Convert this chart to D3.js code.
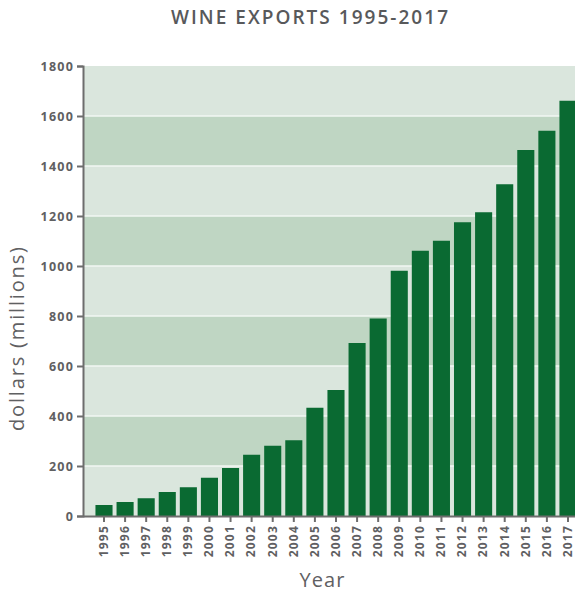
<!DOCTYPE html>
<html><head><meta charset="utf-8">
<script src="https://cdn.jsdelivr.net/npm/d3@7"></script>
<style>body{margin:0;background:#fff;} svg{display:block;font-family:"Open Sans",Lato,sans-serif;}</style>
</head><body>
<svg id="c" width="575" height="594"></svg>
<script>
const years = ["1995","1996","1997","1998","1999","2000","2001","2002","2003","2004","2005","2006","2007","2008","2009","2010","2011","2012","2013","2014","2015","2016","2017"];
const exportsValues = [44,56,71,96,115,153,192,245,281,303,433,504,692,790,981,1061,1101,1175,1215,1327,1464,1541,1661];
const yTicks = [0,200,400,600,800,1000,1200,1400,1600,1800];
const title = "WINE EXPORTS 1995-2017";
const yLabel = "dollars (millions)";
const xLabel = "Year";

(function(){
const svg = d3.select("#c");
const mLeft = 83, mRight = 575, mTop = 66, mBottom = 516;
const y = d3.scaleLinear().domain([0,1800]).range([mBottom, mTop]);
const step = 21.09;
const x0 = 104 - step/2;
const x = d3.scaleBand().domain(years).range([x0, x0 + step*years.length]).paddingInner(0.19).paddingOuter(0.095);

const bands = d3.pairs(yTicks);
svg.append("g").selectAll("rect").data(bands).join("rect")
  .attr("x", mLeft).attr("width", mRight-mLeft)
  .attr("y", d => y(d[1])).attr("height", d => y(d[0]) - y(d[1]))
  .attr("fill", (d,i) => i % 2 === 0 ? "#dae6dd" : "#bfd6c3");
svg.append("g").selectAll("line").data(yTicks.slice(1,-1)).join("line")
  .attr("x1", mLeft).attr("x2", mRight).attr("y1", d => y(d)).attr("y2", d => y(d))
  .attr("stroke", "#f2f7f3").attr("stroke-width", 1.5);

svg.append("g").selectAll("rect").data(exportsValues).join("rect")
  .attr("x", (d,i) => x(years[i])).attr("width", x.bandwidth())
  .attr("y", d => y(d)).attr("height", d => mBottom - y(d))
  .attr("fill", "#0a6a32");

const ya = svg.append("g").attr("transform", `translate(${mLeft},0)`)
  .call(d3.axisLeft(y).tickValues(yTicks).tickFormat(d3.format("d")).tickSize(6).tickPadding(3));
ya.select(".domain").attr("stroke", "#6d6d6d").attr("stroke-width", 2);
ya.selectAll(".tick line").attr("stroke", "#6d6d6d").attr("stroke-width", 2);
ya.selectAll(".tick text").attr("fill", "#5f6062").attr("font-size", 12.5).attr("font-weight", "bold")
  .attr("font-family", "'Open Sans', sans-serif").style("letter-spacing", "1.2px");

const xa = svg.append("g").attr("transform", `translate(0,${mBottom})`)
  .call(d3.axisBottom(x).tickSize(6).tickSizeOuter(0));
xa.select(".domain").attr("stroke", "#6d6d6d").attr("stroke-width", 2).attr("d", `M${mLeft},0.5H${mRight}`);
xa.selectAll(".tick line").attr("stroke", "#6d6d6d").attr("stroke-width", 2);
xa.selectAll(".tick text").attr("fill", "#5f6062").attr("font-size", 12).attr("font-weight", "bold")
  .attr("font-family", "'Open Sans', sans-serif").style("letter-spacing", "1.2px")
  .attr("transform", "rotate(-90)").attr("text-anchor", "end").attr("dx", "-9").attr("dy", "0.32em").attr("x", 0).attr("y", 0);

svg.append("text").attr("x", 309.5).attr("y", 24).attr("text-anchor", "middle")
  .attr("fill", "#58595b").attr("font-size", 19).attr("font-weight", 600)
  .attr("textLength", 277).attr("lengthAdjust", "spacing").text(title);
svg.append("text").attr("transform", "translate(24,339) rotate(-90)").attr("text-anchor", "middle")
  .attr("fill", "#5f6062").attr("font-size", 20).attr("font-weight", 500)
  .attr("textLength", 184).attr("lengthAdjust", "spacing").text(yLabel);
svg.append("text").attr("x", 322).attr("y", 587).attr("text-anchor", "middle")
  .attr("fill", "#5f6062").attr("font-size", 20).attr("font-weight", 500)
  .attr("textLength", 45).attr("lengthAdjust", "spacing").text(xLabel);
})();
</script>
</body></html>
